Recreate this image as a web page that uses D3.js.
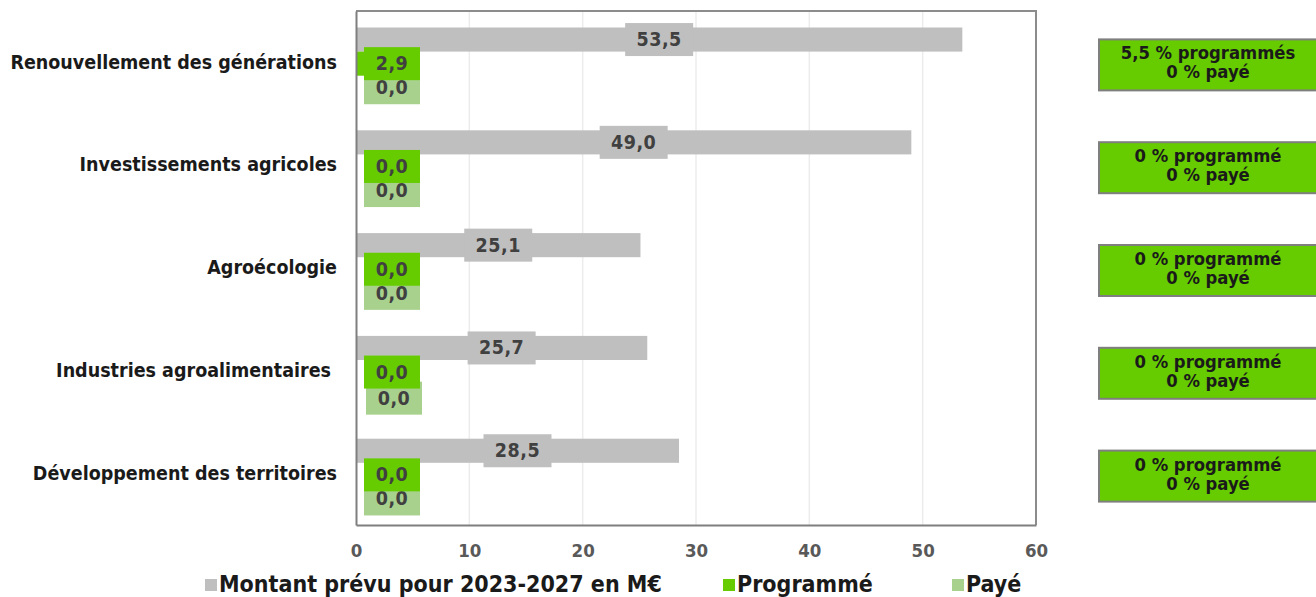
<!DOCTYPE html>
<html>
<head>
<meta charset="utf-8">
<script src="https://cdn.jsdelivr.net/npm/d3@7"></script>
<style>
  body { margin: 0; background: #fff; }
  text { font-family: "DejaVu Sans Condensed", "DejaVu Sans", sans-serif; font-weight: bold; }
</style>
</head>
<body>
<script>
  const categories = [
    'Renouvellement des générations',
    'Investissements agricoles',
    'Agroécologie',
    'Industries agroalimentaires',
    'Développement des territoires',
  ];
  const montant = [53.5, 49.0, 25.1, 25.7, 28.5];
  const programme = [2.9, 0.0, 0.0, 0.0, 0.0];
  const paye = [0.0, 0.0, 0.0, 0.0, 0.0];
  const pctProgramme = ['5,5 % programmés', '0 % programmé', '0 % programmé', '0 % programmé', '0 % programmé'];
  const pctPaye = ['0 % payé', '0 % payé', '0 % payé', '0 % payé', '0 % payé'];
  const xTicks = [0, 10, 20, 30, 40, 50, 60];
  const seriesNames = ['Montant prévu pour 2023-2027 en M€', 'Programmé', 'Payé'];
  const seriesColors = ['#bfbfbf', '#66cc00', '#a9d18e'];

  const width = 1316;
  const height = 597;
  const margin = { top: 11, right: 280, bottom: 72, left: 356 };
  const FONT = '"DejaVu Sans Condensed", "DejaVu Sans", sans-serif';

  const svg = d3.select('body')
    .append('svg')
    .attr('width', width)
    .attr('height', height);

  const x = d3.scaleLinear()
    .domain([0, 60])
    .range([margin.left, width - margin.right]);

  const y = d3.scaleBand()
    .domain(categories)
    .range([margin.top, height - margin.bottom]);

  const ySub = d3.scaleBand()
    .domain([0, 1, 2])
    .range([16.5, y.bandwidth() - 14]);

  const fmt = (v) => v.toFixed(1).replace('.', ',');

  // gridlines
  svg.append('g')
    .selectAll('line')
    .data(xTicks.slice(1, -1))
    .join('line')
    .attr('x1', (d) => x(d))
    .attr('x2', (d) => x(d))
    .attr('y1', margin.top)
    .attr('y2', height - margin.bottom)
    .attr('stroke', '#ececec')
    .attr('stroke-width', 1.5);

  // plot frame (top/right)
  svg.append('path')
    .attr('d', `M${x(0)},${margin.top}H${x(60)}V${height - margin.bottom}`)
    .attr('fill', 'none')
    .attr('stroke', '#8c8c8c')
    .attr('stroke-width', 2);

  const rows = categories.map((c, i) => ({
    cat: c,
    values: [montant[i], programme[i], paye[i]],
  }));

  const g = svg.append('g');

  // bars
  rows.forEach((r) => {
    r.values.forEach((v, s) => {
      g.append('rect')
        .attr('x', x(0))
        .attr('y', y(r.cat) + ySub(s))
        .attr('width', x(v) - x(0))
        .attr('height', ySub.bandwidth())
        .attr('fill', seriesColors[s]);
    });
  });

  // axes
  const xAxis = svg.append('g')
    .attr('transform', `translate(0,${height - margin.bottom})`)
    .call(d3.axisBottom(x).tickValues(xTicks).tickSize(0).tickPadding(19));
  xAxis.select('.domain').attr('stroke', '#7f7f7f').attr('stroke-width', 2);
  xAxis.selectAll('text')
    .attr('font-size', 18.5)
    .attr('fill', '#595959')
    .style('font-family', FONT);

  const yAxis = svg.append('g')
    .attr('transform', `translate(${margin.left},0)`)
    .call(d3.axisLeft(y).tickSize(0).tickPadding(19));
  yAxis.select('.domain').attr('stroke', '#7f7f7f').attr('stroke-width', 2);
  yAxis.selectAll('text')
    .attr('font-size', 19.5)
    .attr('fill', '#1a1a1a')
    .style('font-family', FONT)
    .attr('dx', (d) => (d === 'Industries agroalimentaires' ? -6 : 0));

  // data labels
  function addLabel(cx, cy, txt, fill, minW) {
    const lg = g.append('g');
    const rect = lg.append('rect').attr('fill', fill);
    const t = lg.append('text')
      .attr('x', cx)
      .attr('y', cy)
      .attr('text-anchor', 'middle')
      .attr('dominant-baseline', 'central')
      .attr('font-size', 19.5)
      .attr('letter-spacing', 0.5)
      .attr('fill', '#404040')
      .text(txt);
    const w = Math.max(minW, t.node().getComputedTextLength() + 20);
    rect.attr('x', cx - w / 2).attr('y', cy - 16.5).attr('width', w).attr('height', 33);
  }

  rows.forEach((r) => {
    const yc = (s) => y(r.cat) + ySub(s) + ySub.bandwidth() / 2;
    const shift = r.cat === 'Industries agroalimentaires' ? 2 : 0;
    addLabel(x(0) + 36 + shift, yc(2) + shift, fmt(r.values[2]), seriesColors[2], 56);
    addLabel(x(0) + 36, yc(1), fmt(r.values[1]), seriesColors[1], 56);
    addLabel((x(0) + x(r.values[0])) / 2, yc(0), fmt(r.values[0]), seriesColors[0], 68);
  });

  // side boxes
  const side = svg.append('g');
  rows.forEach((r, i) => {
    const cy = y(r.cat) + y.bandwidth() / 2 + 2;
    side.append('rect')
      .attr('x', 1099)
      .attr('y', cy - 25)
      .attr('width', 218)
      .attr('height', 51)
      .attr('fill', '#66cc00')
      .attr('stroke', '#7f7f7f')
      .attr('stroke-width', 2);
    side.append('text')
      .attr('x', 1208)
      .attr('y', cy - 5)
      .attr('text-anchor', 'middle')
      .attr('font-size', 18.3)
      .attr('fill', '#1a1a1a')
      .text(pctProgramme[i]);
    side.append('text')
      .attr('x', 1208)
      .attr('y', cy + 14)
      .attr('text-anchor', 'middle')
      .attr('font-size', 18.3)
      .attr('fill', '#1a1a1a')
      .text(pctPaye[i]);
  });

  // legend
  const legendX = [205, 723, 952];
  const legend = svg.append('g');
  seriesNames.forEach((n, i) => {
    legend.append('rect')
      .attr('x', legendX[i])
      .attr('y', 579)
      .attr('width', 12)
      .attr('height', 12)
      .attr('fill', seriesColors[i]);
    legend.append('text')
      .attr('x', legendX[i] + 14)
      .attr('y', 592)
      .attr('font-size', 23)
      .attr('fill', '#1a1a1a')
      .text(n);
  });
</script>
</body>
</html>
